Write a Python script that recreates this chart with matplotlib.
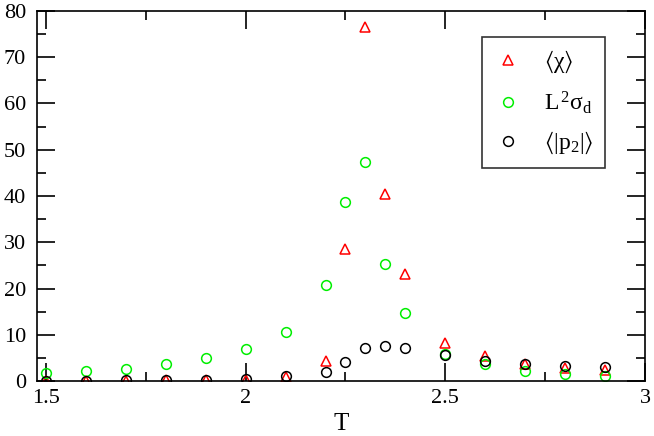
import numpy as np
import matplotlib
matplotlib.use("Agg")
import matplotlib.pyplot as plt
from matplotlib.ticker import MultipleLocator

plt.rcParams['font.family'] = ['Liberation Serif', 'DejaVu Serif']
plt.rcParams['mathtext.fontset'] = 'custom'
plt.rcParams['mathtext.rm'] = 'Liberation Serif'
plt.rcParams['mathtext.it'] = 'Liberation Serif:italic'
plt.rcParams['mathtext.fallback'] = 'stix'

T = [1.5, 1.6, 1.7, 1.8, 1.9, 2.0, 2.1, 2.2, 2.25, 2.3, 2.35, 2.4, 2.5, 2.6, 2.7, 2.8, 2.9]
chi = [0.1, 0.1, 0.1, 0.2, 0.2, 0.3, 0.9, 4.4, 28.6, 76.5, 40.5, 23.2, 8.3, 5.4, 3.7, 2.9, 2.4]
sigma_d = [1.7, 2.2, 2.7, 3.6, 4.9, 6.9, 10.6, 20.8, 38.8, 47.3, 25.4, 14.6, 5.8, 3.6, 2.1, 1.6, 1.1]
p2 = [0.1, 0.1, 0.2, 0.2, 0.3, 0.4, 1.0, 1.9, 4.1, 7.2, 7.5, 7.2, 5.7, 4.4, 3.7, 3.2, 3.0]

fig = plt.figure(figsize=(6.54, 4.36), dpi=100)
ax = fig.add_axes([37 / 654, 1 - 381 / 436, 608 / 654, 370 / 436])

ax.plot(T, chi, linestyle='none', marker='^', ms=7.5, mfc='none', mec='#ff0000', mew=1.1,
        label=r'$\langle\mathrm{\chi}\rangle$')
ax.plot(T, sigma_d, linestyle='none', marker='o', ms=7, mfc='none', mec='#00ee00', mew=1.1,
        label=r'$\mathrm{L}^{\,2}\mathrm{\sigma}_{\mathrm{d}}$')
ax.plot(T, p2, linestyle='none', marker='o', ms=7, mfc='none', mec='black', mew=1.1,
        label=r'$\langle|\mathrm{p}_{2}|\rangle$')

ax.set_xlim(1.4775, 3.0)
ax.set_ylim(0, 80)
ax.xaxis.set_major_locator(MultipleLocator(0.5))
ax.xaxis.set_minor_locator(MultipleLocator(0.25))
ax.yaxis.set_major_locator(MultipleLocator(10))
ax.yaxis.set_minor_locator(MultipleLocator(5))
ax.set_xticks([1.5, 2, 2.5, 3])
ax.set_xticklabels(['1.5', '2', '2.5', '3'])
ax.tick_params(which='both', direction='in', top=True, right=True, labelsize=16, width=1.2)
ax.tick_params(which='major', length=13)
ax.tick_params(which='minor', length=6.5)
ax.tick_params(axis='x', which='major', pad=6)
ax.tick_params(axis='y', which='major', pad=8)
for s in ax.spines.values():
    s.set_linewidth(1.2)

ax.set_xlabel('T', fontsize=18, labelpad=3)

leg = ax.legend(loc='upper right', bbox_to_anchor=(605 / 654, 1 - 37 / 436),
                bbox_transform=fig.transFigure, borderaxespad=0, fontsize=17,
                frameon=True, fancybox=False, edgecolor='black',
                handletextpad=0.9, borderpad=0.5, labelspacing=0.6,
                handlelength=1.2)
leg.get_frame().set_linewidth(1.2)

fig.savefig('out.png', dpi=100)
